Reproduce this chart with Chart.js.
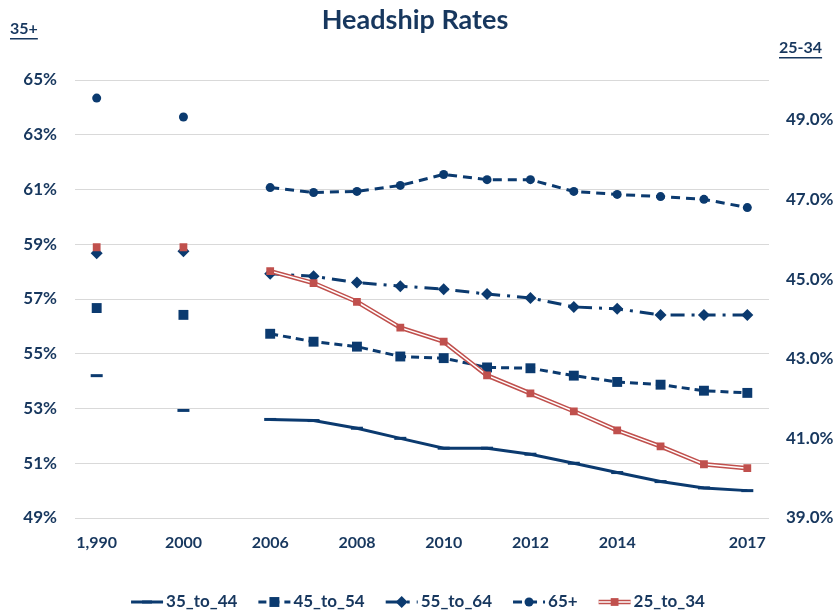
<!DOCTYPE html>
<html>
<head>
<meta charset="utf-8">
<title>Headship Rates</title>
<script src="https://cdn.jsdelivr.net/npm/chart.js@4.4.1/dist/chart.umd.min.js"></script>
<style>
    html, body { margin: 0; padding: 0; background: #fff; }
    #wrap { width: 837px; height: 614px; position: relative; }
</style>
</head>
<body>
<div id="wrap"><canvas id="chart" width="837" height="614"></canvas></div>
<script>
// categories (empty ones are the gaps between 1990, 2000 and 2006)
const years = ['1990', '', '2000', '', '2006', '2007', '2008', '2009', '2010', '2011', '2012', '2013', '2014', '2015', '2016', '2017'];
const yearTicks = ['1,990', '', '2000', '', '2006', '', '2008', '', '2010', '', '2012', '', '2014', '', '', '2017'];

// left axis (35+), percent
const age35to44 = [54.2, null, 52.93, null, 52.6, 52.56, 52.28, 51.91, 51.55, 51.55, 51.33, 51.0, 50.66, 50.33, 50.1, 50.0];
const age45to54 = [56.67, null, 56.42, null, 55.73, 55.44, 55.26, 54.9, 54.84, 54.5, 54.47, 54.2, 53.97, 53.87, 53.65, 53.57];
const age55to64 = [58.67, null, 58.74, null, 57.92, 57.83, 57.6, 57.47, 57.36, 57.18, 57.04, 56.71, 56.64, 56.42, 56.42, 56.42];
const age65plus = [64.34, null, 63.65, null, 61.07, 60.89, 60.93, 61.15, 61.55, 61.36, 61.36, 60.93, 60.82, 60.74, 60.64, 60.34];
// right axis (25-34), percent
const age25to34 = [45.8, null, 45.8, null, 45.2, 44.9, 44.43, 43.78, 43.43, 42.58, 42.13, 41.68, 41.2, 40.8, 40.35, 40.25];

const leftTicks = [49, 51, 53, 55, 57, 59, 61, 63, 65];
const rightTicks = [39, 41, 43, 45, 47, 49];

const NAVY = '#0b3a6f';
const TEXT = '#17375e';
const RED = '#c0504d';
const FONT = 'Lato, "Open Sans", sans-serif';

Chart.defaults.font.family = FONT;
Chart.defaults.font.weight = 'bold';
Chart.defaults.color = TEXT;

function drawMarker(ctx, style, x, y, r, color) {
    ctx.save();
    ctx.fillStyle = color;
    ctx.strokeStyle = color;
    ctx.setLineDash([]);
    ctx.beginPath();
    if (style === 'circle') {
        ctx.arc(x, y, r, 0, Math.PI * 2);
        ctx.fill();
    } else if (style === 'rect') {
        var s = r * Math.SQRT1_2;
        ctx.fillRect(x - s, y - s, 2 * s, 2 * s);
    } else if (style === 'rectRot') {
        ctx.moveTo(x - r, y); ctx.lineTo(x, y - r); ctx.lineTo(x + r, y); ctx.lineTo(x, y + r);
        ctx.closePath();
        ctx.fill();
    } else if (style === 'line') {
        ctx.lineWidth = 3;
        ctx.moveTo(x - r, y); ctx.lineTo(x + r, y);
        ctx.stroke();
    }
    ctx.restore();
}

// title, axis captions and legend
const extras = {
    id: 'extras',
    afterDraw(chart) {
        var ctx = chart.ctx;
        ctx.save();
        ctx.fillStyle = TEXT;
        ctx.textBaseline = 'middle';

        ctx.font = 'bold 27px ' + FONT;
        ctx.textAlign = 'center';
        ctx.fillText('Headship Rates', 415, 20);

        ctx.font = 'bold 16px ' + FONT;
        ctx.textAlign = 'left';
        ctx.fillText('35+', 10, 29);
        var w = ctx.measureText('35+').width;
        ctx.fillRect(10, 38, w, 1.5);
        ctx.fillText('25-34', 779, 48);
        w = ctx.measureText('25-34').width;
        ctx.fillRect(779, 57, w, 1.5);

        // legend
        var items = chart.data.datasets.filter(d => d.legend !== false);
        var sample = 32, gap = 3, space = 21;
        ctx.font = 'bold 17px ' + FONT;
        var total = 0;
        items.forEach((d, i) => {
            total += sample + gap + ctx.measureText(d.label).width + (i < items.length - 1 ? space : 0);
        });
        var x = 418 - total / 2, y = 602;
        items.forEach(d => {
            ctx.save();
            ctx.beginPath();
            ctx.setLineDash(d.borderDash || []);
            ctx.strokeStyle = d.borderColor;
            ctx.lineWidth = d.borderWidth;
            ctx.moveTo(x, y); ctx.lineTo(x + sample, y);
            ctx.stroke();
            if (d.doubleLine) {
                ctx.beginPath();
                ctx.strokeStyle = '#fff';
                ctx.lineWidth = 1.5;
                ctx.moveTo(x, y); ctx.lineTo(x + sample, y);
                ctx.stroke();
            }
            ctx.restore();
            drawMarker(ctx, d.legendMarker, x + sample / 2, y, d.legendRadius, d.legendColor);
            ctx.fillStyle = TEXT;
            ctx.fillText(d.label, x + sample + gap, y);
            x += sample + gap + ctx.measureText(d.label).width + space;
        });
        ctx.restore();
    }
};

new Chart('chart', {
    type: 'line',
    data: {
        labels: years,
        datasets: [
            {
                label: '35_to_44', data: age35to44, yAxisID: 'yLeft', order: 4,
                borderColor: NAVY, borderWidth: 3, tension: 0,
                pointStyle: 'line', pointRadius: 6, pointBorderWidth: 3, pointBorderColor: NAVY,
                legendMarker: 'line', legendRadius: 5, legendColor: NAVY
            },
            {
                label: '45_to_54', data: age45to54, yAxisID: 'yLeft', order: 5,
                borderColor: NAVY, borderWidth: 3, borderDash: [8, 5], tension: 0,
                pointStyle: 'rect', pointRadius: 7, pointBackgroundColor: NAVY, pointBorderWidth: 0,
                legendMarker: 'rect', legendRadius: 7, legendColor: NAVY
            },
            {
                label: '55_to_64', data: age55to64, yAxisID: 'yLeft', order: 6,
                borderColor: NAVY, borderWidth: 3, borderDash: [14, 7, 3, 7], tension: 0,
                pointStyle: 'rectRot', pointRadius: 6, pointBackgroundColor: NAVY, pointBorderWidth: 0,
                legendMarker: 'rectRot', legendRadius: 6, legendColor: NAVY
            },
            {
                label: '65+', data: age65plus, yAxisID: 'yLeft', order: 7,
                borderColor: NAVY, borderWidth: 3, borderDash: [9, 6], tension: 0,
                pointStyle: 'circle', pointRadius: 4.5, pointBackgroundColor: NAVY, pointBorderWidth: 0,
                legendMarker: 'circle', legendRadius: 4.5, legendColor: NAVY
            },
            // 25_to_34 is a double red line: red stroke, white core, then the markers on top
            {
                label: '25_to_34', data: age25to34, yAxisID: 'yRight', order: 1,
                showLine: false, pointStyle: 'rect', pointRadius: 5.5,
                pointBackgroundColor: RED, pointBorderWidth: 0,
                borderColor: RED, borderWidth: 4.5, doubleLine: true,
                legendMarker: 'rect', legendRadius: 5.5, legendColor: RED
            },
            {
                label: '', legend: false, data: age25to34, yAxisID: 'yRight', order: 2,
                borderColor: '#fff', borderWidth: 1.5, pointRadius: 0, tension: 0
            },
            {
                label: '', legend: false, data: age25to34, yAxisID: 'yRight', order: 3,
                borderColor: RED, borderWidth: 4.5, pointRadius: 0, tension: 0
            }
        ]
    },
    options: {
        responsive: false,
        animation: false,
        spanGaps: false,
        layout: { padding: { top: 80, bottom: 52, left: 0, right: 0 } },
        plugins: {
            legend: { display: false },
            title: { display: false },
            tooltip: { enabled: false }
        },
        scales: {
            x: {
                type: 'category',
                offset: true,
                grid: { display: false, drawTicks: false },
                border: { display: false },
                ticks: {
                    autoSkip: false, maxRotation: 0, padding: 15,
                    font: { size: 16, weight: 'bold' }, color: TEXT,
                    callback: (v, i) => yearTicks[i]
                },
                afterFit: s => { s.height = 44; }
            },
            yLeft: {
                position: 'left', min: 49, max: 65,
                grid: { color: '#d9d9d9', lineWidth: 1, drawTicks: false },
                border: { display: false },
                ticks: { padding: 18, font: { size: 17, weight: 'bold' }, color: TEXT, callback: v => v + '%' },
                afterBuildTicks: s => { s.ticks = leftTicks.map(v => ({ value: v })); },
                afterFit: s => { s.width = 75; }
            },
            yRight: {
                position: 'right', min: 39, max: 50,
                grid: { display: false, drawTicks: false },
                border: { display: false },
                ticks: { padding: 17, font: { size: 17, weight: 'bold' }, color: TEXT, callback: v => v.toFixed(1) + '%' },
                afterBuildTicks: s => { s.ticks = rightTicks.map(v => ({ value: v })); },
                afterFit: s => { s.width = 68; }
            }
        }
    },
    plugins: [extras]
});
</script>
</body>
</html>
